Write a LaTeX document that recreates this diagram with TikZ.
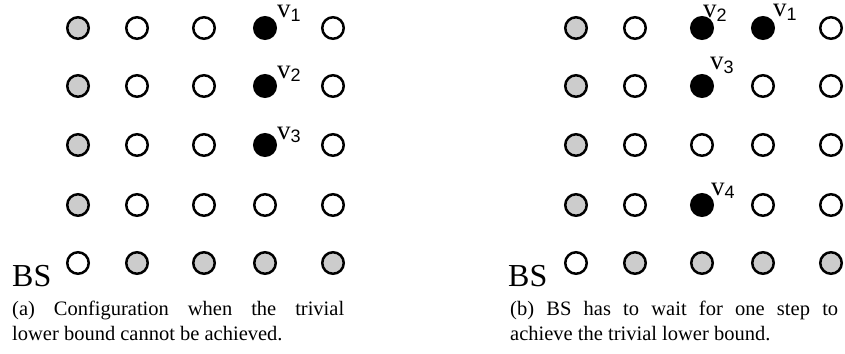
\documentclass[tikz,border=0pt]{standalone}
\usepackage{fontspec}
\setmainfont{Liberation Serif}
\newfontfamily\sansf{Liberation Sans}
\usetikzlibrary{calc}
\definecolor{dotgray}{RGB}{204,204,204}
\newcommand{\vlab}[1]{{\fontsize{27}{27}\selectfont v}\raisebox{-3.5pt}{\sansf\fontsize{18}{18}\selectfont #1}}
\begin{document}
\begin{tikzpicture}[x=1pt,y=-1pt,
  dot/.style={circle,draw=black,line width=2.5pt,minimum size=21.5pt,inner sep=0pt},
  wdot/.style={dot,fill=white},
  gdot/.style={dot,fill=dotgray},
  bdot/.style={dot,fill=black},
  vtag/.style={anchor=base west,inner sep=0pt},
  bstag/.style={anchor=base west,inner sep=0pt,font=\fontsize{32}{32}\selectfont},
  capline/.style={anchor=base west,inner sep=0pt,font=\fontsize{20.5}{24}\selectfont}]
\useasboundingbox (0,0) rectangle (845,353);
% ---------- panel (a)
\foreach \c/\x in {1/78,2/137,3/204,4/265,5/333}{
  \foreach \r/\y in {1/28,2/86,3/145,4/205,5/263}{
    \coordinate (pa\r\c) at (\x,\y);
  }
}
\node[gdot] (a11) at (pa11) {}; \node[wdot] (a12) at (pa12) {}; \node[wdot] (a13) at (pa13) {}; \node[bdot] (a14) at (pa14) {}; \node[wdot] (a15) at (pa15) {};
\node[gdot] (a21) at (pa21) {}; \node[wdot] (a22) at (pa22) {}; \node[wdot] (a23) at (pa23) {}; \node[bdot] (a24) at (pa24) {}; \node[wdot] (a25) at (pa25) {};
\node[gdot] (a31) at (pa31) {}; \node[wdot] (a32) at (pa32) {}; \node[wdot] (a33) at (pa33) {}; \node[bdot] (a34) at (pa34) {}; \node[wdot] (a35) at (pa35) {};
\node[gdot] (a41) at (pa41) {}; \node[wdot] (a42) at (pa42) {}; \node[wdot] (a43) at (pa43) {}; \node[wdot] (a44) at (pa44) {}; \node[wdot] (a45) at (pa45) {};
\node[wdot] (a51) at (pa51) {}; \node[gdot] (a52) at (pa52) {}; \node[gdot] (a53) at (pa53) {}; \node[gdot] (a54) at (pa54) {}; \node[gdot] (a55) at (pa55) {};
\node[vtag] (la1) at ($(a14)+(12,-10)$) {\vlab{1}};
\node[vtag] (la2) at ($(a24)+(12,-8)$) {\vlab{2}};
\node[vtag] (la3) at ($(a34)+(12,-6)$) {\vlab{3}};
\node[bstag] (bsa) at (12,286) {BS};
\node[capline] (capa1) at (12,315) {\makebox[332pt][s]{(a) Configuration when the trivial}};
\node[capline] (capa2) at (12,340) {lower bound cannot be achieved.};
% ---------- panel (b)
\foreach \c/\x in {1/576,2/635,3/702,4/763,5/831}{
  \foreach \r/\y in {1/28,2/86,3/145,4/205,5/263}{
    \coordinate (pb\r\c) at (\x,\y);
  }
}
\node[gdot] (b11) at (pb11) {}; \node[wdot] (b12) at (pb12) {}; \node[bdot] (b13) at (pb13) {}; \node[bdot] (b14) at (pb14) {}; \node[wdot] (b15) at (pb15) {};
\node[gdot] (b21) at (pb21) {}; \node[wdot] (b22) at (pb22) {}; \node[bdot] (b23) at (pb23) {}; \node[wdot] (b24) at (pb24) {}; \node[wdot] (b25) at (pb25) {};
\node[gdot] (b31) at (pb31) {}; \node[wdot] (b32) at (pb32) {}; \node[wdot] (b33) at (pb33) {}; \node[wdot] (b34) at (pb34) {}; \node[wdot] (b35) at (pb35) {};
\node[gdot] (b41) at (pb41) {}; \node[wdot] (b42) at (pb42) {}; \node[bdot] (b43) at (pb43) {}; \node[wdot] (b44) at (pb44) {}; \node[wdot] (b45) at (pb45) {};
\node[wdot] (b51) at (pb51) {}; \node[gdot] (b52) at (pb52) {}; \node[gdot] (b53) at (pb53) {}; \node[gdot] (b54) at (pb54) {}; \node[gdot] (b55) at (pb55) {};
\node[vtag] (lb2) at ($(b13)+(1,-10)$) {\vlab{2}};
\node[vtag] (lb1) at ($(b14)+(10,-11)$) {\vlab{1}};
\node[vtag] (lb3) at ($(b23)+(8,-16)$) {\vlab{3}};
\node[vtag] (lb4) at ($(b43)+(9,-10)$) {\vlab{4}};
\node[bstag] (bsb) at (508,286) {BS};
\node[capline] (capb1) at (510,315) {\makebox[328pt][s]{(b) BS has to wait for one step to}};
\node[capline] (capb2) at (510,340) {achieve the trivial lower bound.};
\end{tikzpicture}
\end{document}
